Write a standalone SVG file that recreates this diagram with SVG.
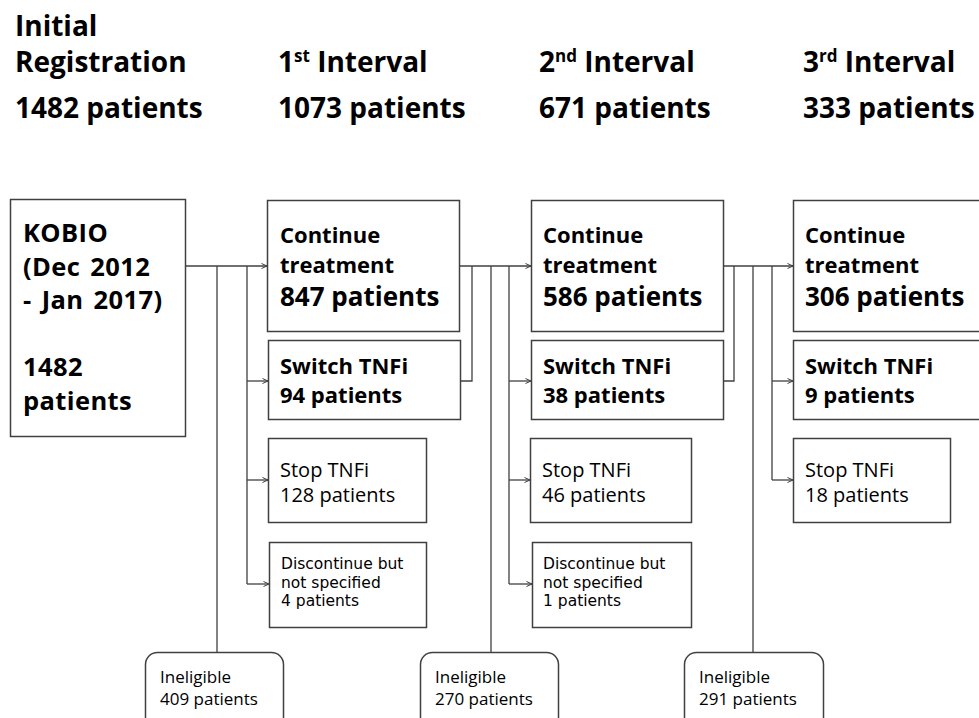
<svg xmlns="http://www.w3.org/2000/svg" width="979" height="718" viewBox="0 0 979 718">
<defs>
<marker id="arr" markerUnits="userSpaceOnUse" markerWidth="8" markerHeight="8" refX="6" refY="3" orient="auto">
<path d="M0.5,0.5 L6,3 L0.5,5.5" fill="none" stroke="#404040" stroke-width="1"/>
</marker>
<style>
.box{fill:#fff;stroke:#404040;stroke-width:1.5}
.ln{fill:none;stroke:#404040;stroke-width:1.3}
.ar{fill:none;stroke:#404040;stroke-width:1.3;marker-end:url(#arr)}
text{font-family:"Open Sans","Noto Sans CJK KR",sans-serif;fill:#000}
.hd{font-size:28px;font-weight:bold}
.sup{font-size:17px}
.b26{font-size:26px;font-weight:bold}
.bk{font-size:25.5px;font-weight:bold;letter-spacing:0.4px;word-spacing:3px}
.b22{font-size:22px;font-weight:bold}
.r20{font-size:20px}
.r16{font-family:"DejaVu Sans","Noto Sans CJK KR",sans-serif;font-size:15.5px}
.r17{font-size:17px}
</style>
</defs>
<rect width="979" height="718" fill="#fff"/>
<g id="headers">
<text class="hd" x="15" y="36">Initial</text>
<text class="hd" x="15" y="72">Registration</text>
<text class="hd" x="15" y="118">1482 patients</text>
<text class="hd" x="278" y="72">1<tspan class="sup" dy="-10">st</tspan><tspan dy="10"> Interval</tspan></text>
<text class="hd" x="278" y="118">1073 patients</text>
<text class="hd" x="539" y="72">2<tspan class="sup" dy="-10">nd</tspan><tspan dy="10"> Interval</tspan></text>
<text class="hd" x="539" y="118">671 patients</text>
<text class="hd" x="803" y="72">3<tspan class="sup" dy="-10">rd</tspan><tspan dy="10"> Interval</tspan></text>
<text class="hd" x="803" y="118">333 patients</text>
</g>
<g id="connectors">
<path class="ar" d="M185,266 H267"/>
<path class="ln" d="M217,266 V652"/>
<path class="ln" d="M247,266 V584"/>
<path class="ar" d="M247,381 H268"/>
<path class="ar" d="M247,480 H268"/>
<path class="ar" d="M247,584 H269"/>
<path class="ar" d="M459,266 H531"/>
<path class="ln" d="M460,381 H472 V266"/>
<path class="ln" d="M491,266 V652"/>
<path class="ln" d="M509,266 V584"/>
<path class="ar" d="M509,381 H531"/>
<path class="ar" d="M509,480 H530"/>
<path class="ar" d="M509,584 H532"/>
<path class="ar" d="M723,266 H793"/>
<path class="ln" d="M723,381 H734 V266"/>
<path class="ln" d="M753,266 V652"/>
<path class="ln" d="M772,266 V480"/>
<path class="ar" d="M772,381 H793"/>
<path class="ar" d="M772,480 H793"/>
</g>
<g id="kobio">
<rect class="box" x="10.5" y="199.5" width="175" height="237"/>
<text class="bk" x="23" y="242">KOBIO</text>
<text class="bk" x="23" y="275.5">(Dec 2012</text>
<text class="bk" x="23" y="309">- Jan 2017)</text>
<text class="bk" x="23" y="376">1482</text>
<text class="bk" x="23" y="410">patients</text>
</g>
<g id="continue1">
<rect class="box" x="267.5" y="200.5" width="192" height="131"/>
<text class="b22" x="280" y="243">Continue</text>
<text class="b22" x="280" y="273">treatment</text>
<text class="b26" x="280" y="306">847 patients</text>
</g>
<g id="switch1">
<rect class="box" x="268.5" y="340.5" width="192" height="79"/>
<text class="b22" x="280" y="374">Switch TNFi</text>
<text class="b22" x="280" y="403">94 patients</text>
</g>
<g id="stop1">
<rect class="box" x="268.5" y="438.5" width="158" height="84"/>
<text class="r20" x="280" y="477">Stop TNFi</text>
<text class="r20" x="280" y="502">128 patients</text>
</g>
<g id="disc1">
<rect class="box" x="269.5" y="542.5" width="157" height="85"/>
<text class="r16" x="281" y="569">Discontinue but</text>
<text class="r16" x="281" y="587.7">not specified</text>
<text class="r16" x="281" y="606.4">4 patients</text>
</g>
<g id="continue2">
<rect class="box" x="531.5" y="200.5" width="192" height="131"/>
<text class="b22" x="543" y="243">Continue</text>
<text class="b22" x="543" y="273">treatment</text>
<text class="b26" x="543" y="306">586 patients</text>
</g>
<g id="switch2">
<rect class="box" x="531.5" y="340.5" width="192" height="79"/>
<text class="b22" x="543" y="374">Switch TNFi</text>
<text class="b22" x="543" y="403">38 patients</text>
</g>
<g id="stop2">
<rect class="box" x="530.5" y="438.5" width="161" height="84"/>
<text class="r20" x="542" y="477">Stop TNFi</text>
<text class="r20" x="542" y="502">46 patients</text>
</g>
<g id="disc2">
<rect class="box" x="532.5" y="542.5" width="159" height="85"/>
<text class="r16" x="543" y="569">Discontinue but</text>
<text class="r16" x="543" y="587.7">not specified</text>
<text class="r16" x="543" y="606.4">1 patients</text>
</g>
<g id="continue3">
<rect class="box" x="793.5" y="200.5" width="200" height="131"/>
<text class="b22" x="805" y="243">Continue</text>
<text class="b22" x="805" y="273">treatment</text>
<text class="b26" x="805" y="306">306 patients</text>
</g>
<g id="switch3">
<rect class="box" x="793.5" y="340.5" width="200" height="79"/>
<text class="b22" x="805" y="374">Switch TNFi</text>
<text class="b22" x="805" y="403">9 patients</text>
</g>
<g id="stop3">
<rect class="box" x="793.5" y="438.5" width="157" height="84"/>
<text class="r20" x="805" y="477">Stop TNFi</text>
<text class="r20" x="805" y="502">18 patients</text>
</g>
<g id="inel1">
<rect class="box" x="145.5" y="652.5" width="138" height="80" rx="12"/>
<text class="r17" x="160" y="683">Ineligible</text>
<text class="r17" x="160" y="705">409 patients</text>
</g>
<g id="inel2">
<rect class="box" x="420.5" y="652.5" width="138" height="80" rx="12"/>
<text class="r17" x="435" y="683">Ineligible</text>
<text class="r17" x="435" y="705">270 patients</text>
</g>
<g id="inel3">
<rect class="box" x="684.5" y="652.5" width="139" height="80" rx="12"/>
<text class="r17" x="699" y="683">Ineligible</text>
<text class="r17" x="699" y="705">291 patients</text>
</g>
</svg>
